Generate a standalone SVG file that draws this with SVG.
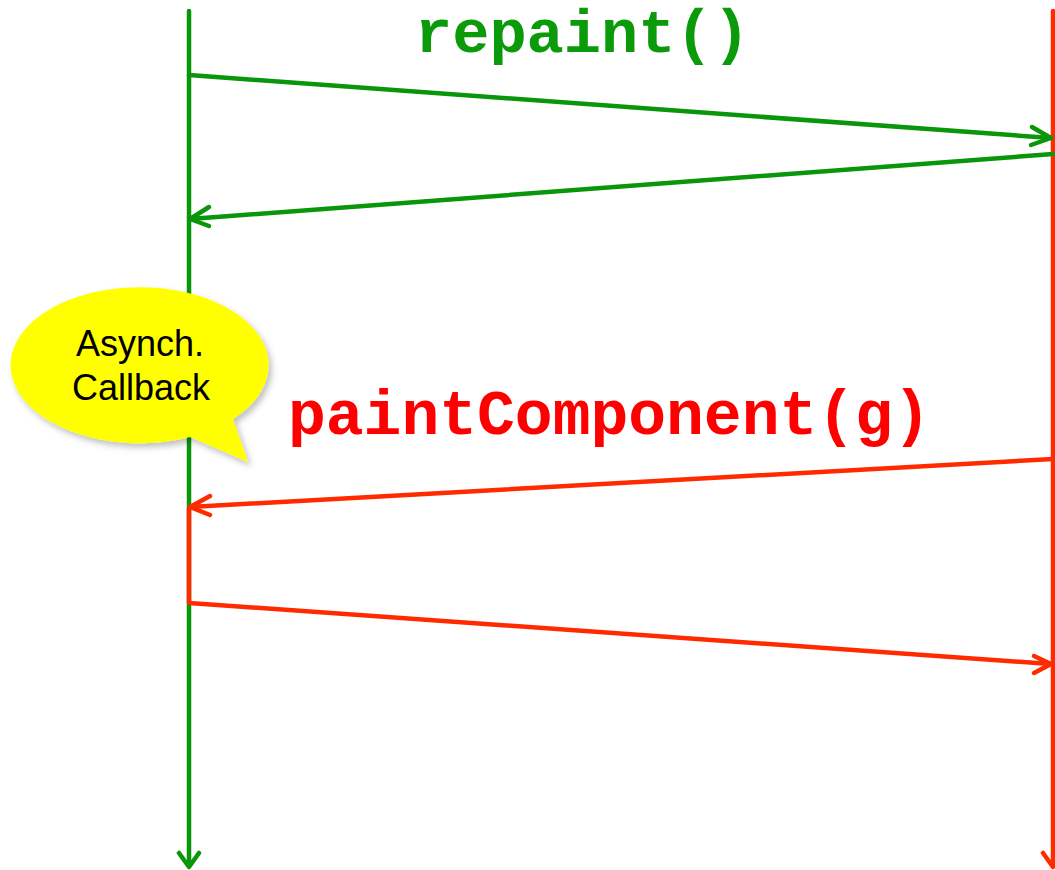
<svg xmlns="http://www.w3.org/2000/svg" width="1055" height="870" viewBox="0 0 1055 870">
<style>
.g{stroke:#0a960a;stroke-width:4.5;fill:none;stroke-linecap:round;stroke-linejoin:round}
.r{stroke:#ff2a00;stroke-width:4.5;fill:none;stroke-linecap:round;stroke-linejoin:round}
.code{font-family:"Liberation Mono","Courier New",monospace;font-weight:bold}
.lbl{font-family:"Liberation Sans",Arial,sans-serif;font-size:36px;fill:#000;text-anchor:middle}
</style>
<defs>
<filter id="sh" x="-10%" y="-10%" width="130%" height="130%">
<feDropShadow dx="3" dy="4" stdDeviation="3" flood-color="#000" flood-opacity="0.25"/>
</filter>
</defs>
<rect width="1055" height="870" fill="#fff"/>
<g id="lifelines">
<g id="client">
<line class="g" x1="189" y1="11" x2="189" y2="866"/>
<polyline class="g" points="179,853 189,867 199,853"/>
</g>
<g id="server">
<line class="r" x1="1053" y1="11" x2="1053" y2="866"/>
<polyline class="r" points="1043,853 1053,867 1063,853"/>
</g>
</g>
<g id="connectors">
<line class="g" x1="189" y1="75" x2="1051" y2="138"/>
<polyline class="g" points="1032,127 1051,138 1031,145"/>
<line class="g" x1="1053" y1="154" x2="190" y2="219"/>
<polyline class="g" points="209,207 190,219 209,226"/>
<line class="r" x1="1053" y1="459" x2="190" y2="507"/>
<polyline class="r" points="210,496 190,507 210,515"/>
<polyline class="r" points="189,508 189,603 1051,664"/>
<polyline class="r" points="1034,656 1051,664 1034,673"/>
</g>
<g id="labels">
<text class="code" x="415" y="52" font-size="62" fill="#0a9a0a">repaint()</text>
<text class="code" x="288" y="434" font-size="63" fill="#ff0000">paintComponent(g)</text>
</g>
<g id="bubble">
<path d="M233 419 L248 462 L190 437 A129 78 0 1 1 233 419 Z" fill="#ffff00" filter="url(#sh)"/>
<text class="lbl" x="140" y="356">Asynch.</text>
<text class="lbl" x="141" y="400">Callback</text>
</g>
</svg>
